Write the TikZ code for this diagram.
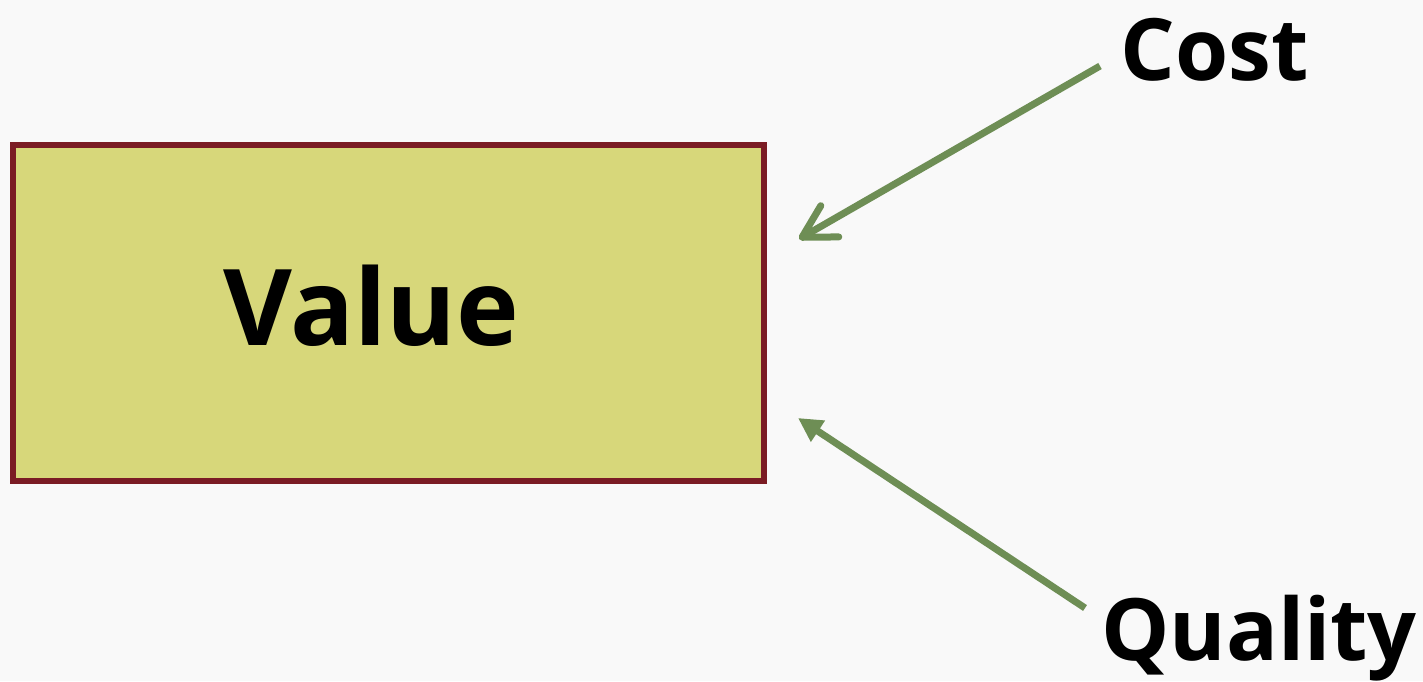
\documentclass[tikz,border=0pt]{standalone}
\usepackage{fontspec}
\setmainfont{Open Sans}
\usetikzlibrary{arrows.meta}
\definecolor{bg}{HTML}{F9F9F9}
\definecolor{boxfill}{HTML}{D7D77A}
\definecolor{boxline}{HTML}{7B1C24}
\definecolor{arrowgreen}{HTML}{6E8E55}
\tikzset{
  valuebox/.style={draw=boxline, fill=boxfill, line width=3pt, rectangle, inner sep=0pt},
  bigtext/.style={font=\fontsize{53}{58}\selectfont\bfseries, inner sep=0pt, anchor=base},
  sidetext/.style={font=\fontsize{43}{48}\selectfont\bfseries, inner sep=0pt, anchor=base},
  greenline/.style={draw=arrowgreen, line width=3.5pt}
}
\begin{document}
\begin{tikzpicture}[x=0.5pt,y=-0.5pt]
\fill[bg] (0,0) rectangle (1423,681);
\useasboundingbox (0,0) rectangle (1423,681);
\node[valuebox, minimum width=375.5pt, minimum height=168pt] (box) at (388.5,313) {};
\node[bigtext] (valuetext) at (371,345) {Value};
\node[sidetext] (cost) at (1215,80) {Cost};
\node[sidetext] (quality) at (1259,660) {Quality};
\coordinate (coststart) at (1100,66);
\coordinate (costtip) at (799,239);
\coordinate (qualstart) at (1085,608);
\coordinate (qualtip) at (798,418);
\draw[greenline, -{Straight Barb[length=16pt,width=18pt,line cap=round,line join=round]}] (coststart) -- (costtip);
\draw[greenline, -{Triangle[length=12pt,width=12pt]}] (qualstart) -- (qualtip);
\end{tikzpicture}
\end{document}
